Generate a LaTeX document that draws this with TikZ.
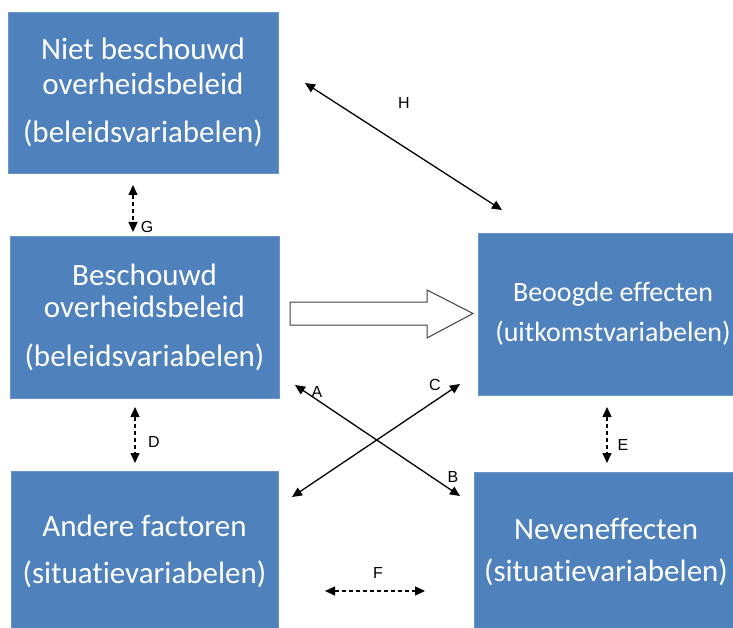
\documentclass[tikz,border=0pt]{standalone}
\usepackage{fontspec}
\setmainfont{Carlito}[Ligatures=NoCommon]
\newfontfamily\labfont{Liberation Sans}
\usetikzlibrary{arrows.meta}
\definecolor{boxblue}{HTML}{4F81BD}
\begin{document}
\begin{tikzpicture}[x=1pt,y=-1pt,
  box/.style={fill=boxblue, draw=boxblue!85!white, line width=0.8pt, text=white, align=center, inner sep=0pt, font=\fontsize{31}{35}\selectfont},
  conn/.style={line width=1.3pt, {Triangle[length=10pt,width=9pt]}-{Triangle[length=10pt,width=9pt]}},
  dconn/.style={conn, dash pattern=on 4pt off 3pt},
  lbl/.style={font=\labfont\fontsize{16}{16}\selectfont, inner sep=0pt}]
\useasboundingbox (0,0) rectangle (733,628);
\clip (0,0) rectangle (733,628);

\node[box, minimum width=270, minimum height=161] (n1) at (143,92.5) {Niet beschouwd\\overheidsbeleid\\[13pt](beleidsvariabelen)};
\node[box, minimum width=269, minimum height=162] (n2) at (144.5,317) {\raisebox{-3pt}{Beschouwd}\\overheidsbeleid\\[14pt](beleidsvariabelen)};
\node[box, minimum width=267, minimum height=161] (n3) at (144.5,551.5) {\raisebox{-2pt}{Andere factoren}\\[14pt](situatievariabelen)};
\node[box, minimum width=270, minimum height=162, font=\fontsize{28}{33}\selectfont] (n4) at (613,314) {Beoogde effecten\\[7pt](uitkomstvariabelen)};
\node[box, minimum width=264, minimum height=160] (n5) at (606,552) {Neveneffecten\\[7pt](situatievariabelen)};

% block arrow
\draw[line width=1pt, draw=black!75, fill=white] (290,302) -- (427,302) -- (427,290) -- (473,313.5) -- (427,338) -- (427,325) -- (290,325) -- cycle;

% connector end points
\coordinate (h1) at (305,83);
\coordinate (h2) at (502,210);
\coordinate (g1) at (133,185);
\coordinate (g2) at (133,232);
\coordinate (d1) at (135,407);
\coordinate (d2) at (135,463);
\coordinate (e1) at (607,407);
\coordinate (e2) at (607,463);
\coordinate (f1) at (325,591);
\coordinate (f2) at (425,591);
\coordinate (a1) at (295,385);
\coordinate (b1) at (460,496);
\coordinate (c1) at (460,384);
\coordinate (c2) at (292,497);

\draw[conn] (h1) -- (h2);
\draw[conn] (a1) -- (b1);
\draw[conn] (c1) -- (c2);
\draw[dconn] (g1) -- (g2);
\draw[dconn] (d1) -- (d2);
\draw[dconn] (e1) -- (e2);
\draw[dconn] (f1) -- (f2);

\node[lbl] (lh) at (404,103) {H};
\node[lbl] (lg) at (147,227) {G};
\node[lbl] (ld) at (154,442) {D};
\node[lbl] (le) at (623,445) {E};
\node[lbl] (lf) at (378,573) {F};
\node[lbl] (la) at (317,392) {A};
\node[lbl] (lb) at (453,477) {B};
\node[lbl] (lc) at (435,385) {C};
\end{tikzpicture}
\end{document}
